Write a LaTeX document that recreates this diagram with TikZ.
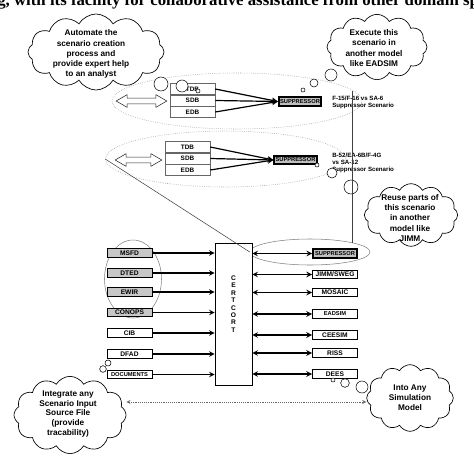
\documentclass[tikz,border=0pt]{standalone}
\usepackage{fontspec}
\setmainfont{Liberation Sans}
\newfontfamily\pagefont{Liberation Serif}
\usetikzlibrary{shapes.geometric, shapes.symbols, shapes.arrows, positioning}

\begin{document}
\begin{tikzpicture}[x=0.75pt, y=-0.75pt, >=stealth, inner sep=1pt,
    thought/.style={cloud, cloud puffs=12, cloud puff arc=120, cloud ignores aspect, draw, fill=white, line width=0.5pt},
    thoughttext/.style={align=center, font=\fontsize{6.2}{7.6}\selectfont\bfseries},
    bubble/.style={circle, draw, fill=white, inner sep=0pt, line width=0.4pt},
    dbbox/.style={draw=black!60, fill=white, minimum width=33.75pt, minimum height=8.6pt, inner sep=0pt, font=\fontsize{4.8}{5}\selectfont\bfseries},
    simbox/.style={draw, line width=1.3pt, fill=black!25, minimum width=32pt, minimum height=6.5pt, inner sep=0pt, font=\fontsize{4.3}{5}\selectfont\bfseries},
    srcbox/.style={draw, line width=0.7pt, fill=white, minimum width=33.75pt, minimum height=6.6pt, inner sep=0pt, font=\fontsize{5}{5}\selectfont\bfseries},
    scengroup/.style={ellipse, draw=black!45, densely dotted, inner sep=0pt},
    ring/.style={ellipse, draw=black!50, inner sep=0pt},
    feed/.style={->, line width=0.9pt},
    link/.style={<->, line width=0.9pt},
    hollow/.style={double arrow, draw=black!85, fill=white, double arrow tip angle=60, double arrow head extend=2.6pt, inner sep=1.9pt},
    note/.style={align=left, anchor=west, inner sep=0pt, font=\fontsize{4.6}{5.4}\selectfont\bfseries}]
  \useasboundingbox (0,0) rectangle (474,475);
  \clip (0,0) rectangle (474,475);

  \node[anchor=base west, inner sep=0pt, font=\pagefont\bfseries\fontsize{12.6}{14}\selectfont] (pagetext) at (-3,5) {g, with its facility for collaborative assistance from other domain sp};

  % scenario groups
  \node[scengroup, minimum width=187.5pt, minimum height=42pt] (ellA) at (237,101) {};
  \node[scengroup, minimum width=180pt, minimum height=42pt] (ellB) at (225.5,159) {};

  \node[thought, minimum width=102pt, minimum height=57pt] (automate) at (96,52) {};
  \node[thoughttext] (automatetext) at (91,54) {Automate the\\scenario creation\\process and\\provide expert help\\to an analyst};
  \node[thought, minimum width=75pt, minimum height=49pt] (execute) at (377,47) {};
  \node[thoughttext] (executetext) at (374,48) {Execute this\\scenario in\\another model\\like EADSIM};

  \node[hollow, minimum height=38pt] (swapA) at (141.5,101) {};
  \node[dbbox] (tdbA) at (192.5,89) {TDB};
  \node[dbbox] (sdbA) at (192.5,100.5) {SDB};
  \node[dbbox] (edbA) at (192.5,112) {EDB};
  \node[simbox] (supA) at (300,101.5) {SUPPRESSOR};
  \foreach \db in {tdbA,sdbA,edbA}
    \draw[feed] (\db.east) -- (supA.west);
  \node[note] (scenA) at (332,102.5) {F-15/F-16 vs SA-6\\Suppressor Scenario};

  \node[bubble, minimum size=10.5pt] (autoA) at (161,84) {};
  \node[bubble, minimum size=9pt] (autoB) at (182,86) {};
  \node[bubble, minimum size=3pt] (autoC) at (198,91) {};
  \node[bubble, minimum size=9pt] (execA) at (331,75) {};
  \node[bubble, minimum size=6pt] (execB) at (314,83) {};
  \node[bubble, minimum size=3pt] (execC) at (303,90) {};

  \node[hollow, minimum height=35pt] (swapB) at (138.5,160) {};
  \node[dbbox] (tdbB) at (187.5,147) {TDB};
  \node[dbbox] (sdbB) at (187.5,158.5) {SDB};
  \node[dbbox] (edbB) at (187.5,170) {EDB};
  \node[simbox] (supB) at (295.5,160) {SUPPRESSOR};
  \foreach \db in {tdbB,sdbB,edbB}
    \draw[feed] (\db.east) -- (supB.west);
  \node[note] (scenB) at (332,163) {B-52/EA-6B/F-4G\\vs SA-12\\Suppressor Scenario};

  \node[thought, minimum width=70pt, minimum height=47pt] (reuse) at (411,215) {};
  \node[thoughttext] (reusetext) at (410,218) {Reuse parts of\\this scenario\\in another\\model like\\JIMM};
  \node[bubble, minimum size=3pt] (reuseA) at (317,165) {};
  \node[bubble, minimum size=7.5pt] (reuseB) at (332,173) {};
  \node[bubble, minimum size=10.5pt] (reuseC) at (351,187) {};

  % certcort hub
  \node[ring, minimum width=42.75pt, minimum height=58.5pt] (srcring) at (133,279) {};
  \node[ring, minimum width=90pt, minimum height=19.5pt] (ellC) at (310,252) {};
  \node[draw, fill=white, minimum width=27.75pt, minimum height=106.5pt] (cert) at (233.5,314) {};
  \node[align=center, font=\fontsize{5}{5.6}\selectfont\bfseries] (certtext) at (233.5,304) {C\\E\\R\\T\\C\\O\\R\\T};

  \node[srcbox, fill=black!22] (msfd) at (129.5,253) {MSFD};
  \node[srcbox, fill=black!22] (dted) at (129.5,273) {DTED};
  \node[srcbox, fill=black!22] (ewir) at (129.5,292) {EWIR};
  \node[srcbox, fill=black!22] (conops) at (129.5,312.5) {CONOPS};
  \node[srcbox] (cib) at (129.5,333) {CIB};
  \node[srcbox] (dfad) at (129.5,354) {DFAD};
  \node[srcbox, font=\fontsize{4.3}{5}\selectfont\bfseries] (docs) at (129.5,374.5) {DOCUMENTS};
  \foreach \src in {msfd,dted,ewir,conops,cib,dfad,docs}
    \draw[feed] (\src.east) -- (\src.east -| cert.west);

  \node[simbox, minimum width=33pt, minimum height=7pt] (supC) at (335,253.5) {SUPPRESSOR};
  \node[srcbox] (jimm) at (335,274.5) {JIMM/SWEG};
  \node[srcbox] (mosaic) at (335,292.5) {MOSAIC};
  \node[srcbox, font=\fontsize{4.3}{5}\selectfont\bfseries] (eadsim) at (335,314) {EADSIM};
  \node[srcbox] (ceesim) at (335,335) {CEESIM};
  \node[srcbox] (riss) at (335,353) {RISS};
  \node[srcbox] (dees) at (335,374) {DEES};
  \foreach \dst in {supC,jimm,mosaic,eadsim,ceesim,riss,dees}
    \draw[link] (\dst.west -| cert.east) -- (\dst.west);

  \draw[black!75] (ellB.west) -- (ellC.west);
  \draw[black!75] (ellC.north east) -- (ellC.north east |- ellA.5);

  % input and output clouds
  \node[thought, minimum width=84pt, minimum height=58pt] (integrate) at (70,415) {};
  \node[thoughttext, font=\fontsize{6.2}{7.2}\selectfont\bfseries] (integratetext) at (68,414) {Integrate any\\Scenario Input\\Source File\\(provide\\tracability)};
  \node[bubble, minimum size=4.5pt] (integA) at (108,363) {};
  \node[bubble, minimum size=5pt] (integB) at (103,369) {};

  \node[thought, minimum width=65pt, minimum height=50pt] (into) at (410,398) {};
  \node[thoughttext] (intotext) at (410,398) {Into Any\\Simulation\\Model};
  \node[bubble, minimum size=3pt] (intoA) at (333,380) {};
  \node[bubble, minimum size=6.5pt] (intoB) at (345,383) {};
  \node[bubble, minimum size=9pt] (intoC) at (362,387) {};

  \coordinate (dotend) at ([yshift=-3pt]into.west);
  \draw[<->, densely dotted, black!60] (dotend -| integrate.east) -- (dotend);
\end{tikzpicture}
\end{document}
